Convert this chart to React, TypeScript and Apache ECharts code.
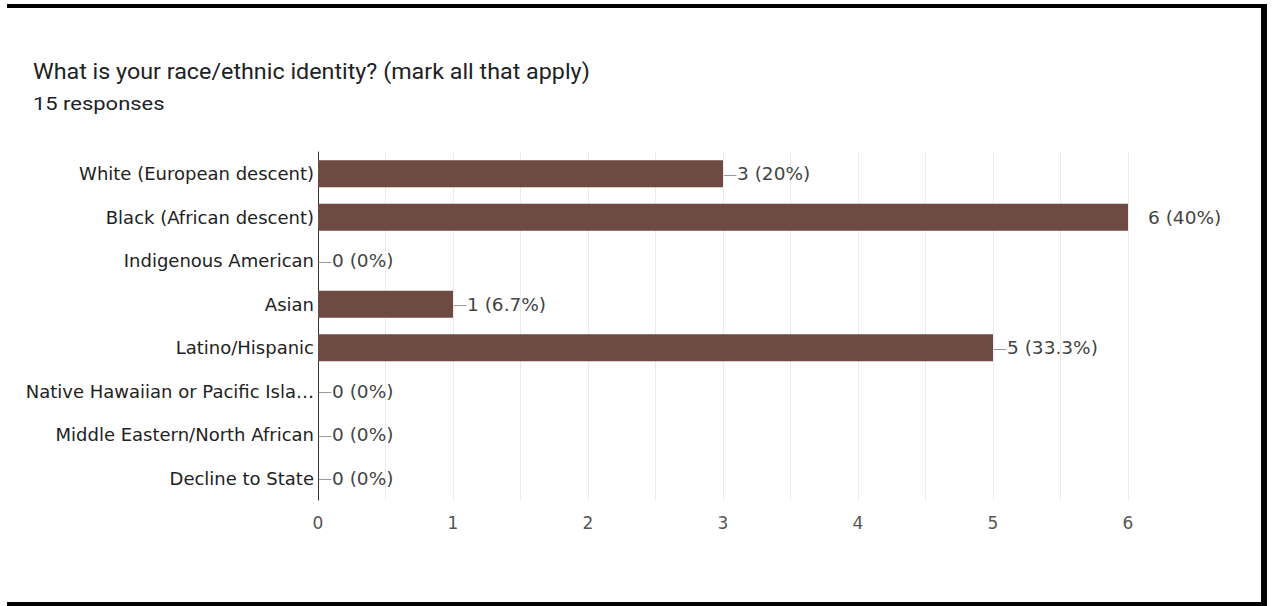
import React, { useEffect, useRef } from "react";
import * as echarts from "echarts";

const titleText = "What is your race/ethnic identity? (mark all that apply)";
const subtitleText = "15 responses";
const totalResponses = 15;
const categories = [
  "White (European descent)",
  "Black (African descent)",
  "Indigenous American",
  "Asian",
  "Latino/Hispanic",
  "Native Hawaiian or Pacific Isla…",
  "Middle Eastern/North African",
  "Decline to State",
];
const counts = [3, 6, 0, 1, 5, 0, 0, 0];
const xTicks = [0, 1, 2, 3, 4, 5, 6];

function pct(v: number): string {
  const p = Math.round((v / totalResponses) * 1000) / 10;
  return `${p}%`;
}

export default function App() {
  const ref = useRef<HTMLDivElement>(null);
  useEffect(() => {
    if (!ref.current) return;
    const chart = echarts.init(ref.current, undefined, { renderer: "svg" });
    const maxV = Math.max(...counts);
    const labelFont = "'DejaVu Sans', sans-serif";
    chart.setOption({
      animation: false,
      backgroundColor: "#ffffff",
      grid: { left: 318, right: 145, top: 152, bottom: 106, containLabel: false },
      xAxis: {
        type: "value",
        min: xTicks[0],
        max: xTicks[xTicks.length - 1],
        interval: 0.5,
        axisLine: { show: false },
        axisTick: { show: false },
        splitLine: { show: true, lineStyle: { color: "#ebebeb", width: 1 } },
        axisLabel: {
          margin: 14,
          fontFamily: labelFont,
          fontSize: 17,
          color: "#555555",
          formatter: (v: number) => (xTicks.includes(v) ? String(v) : ""),
        },
      },
      yAxis: {
        type: "category",
        inverse: true,
        data: categories,
        axisLine: { show: true, lineStyle: { color: "#333333", width: 1 } },
        axisTick: { show: false },
        splitLine: { show: false },
        axisLabel: {
          margin: 4,
          fontFamily: labelFont,
          fontSize: 18,
          color: "#222222",
        },
      },
      series: [
        {
          type: "bar",
          barWidth: 27,
          itemStyle: { color: "#6d4a42" },
          data: counts.map((v) => ({
            value: v,
            label:
              v === maxV
                ? { distance: 20, formatter: `${v} (${pct(v)})` }
                : { distance: 0, formatter: `{d|—}${v} (${pct(v)})` },
          })),
          label: {
            show: true,
            position: "right",
            fontFamily: labelFont,
            fontSize: 18.5,
            color: "#444444",
            rich: {
              d: { color: "#9a9a9a", fontFamily: labelFont, fontSize: 14 },
            },
          },
        },
      ],
      graphic: [
        {
          type: "text",
          x: 33,
          y: 72,
          scaleX: 1.06,
          style: {
            text: titleText,
            font: "22px Roboto, sans-serif",
            fill: "#202124",
            textVerticalAlign: "middle",
          },
        },
        {
          type: "text",
          x: 33,
          y: 104,
          scaleX: 1.22,
          style: {
            text: subtitleText,
            font: "18px Roboto, sans-serif",
            fill: "#202124",
            textVerticalAlign: "middle",
          },
        },
        { type: "rect", shape: { x: 7, y: 4, width: 1260, height: 4 }, style: { fill: "#000000" } },
        { type: "rect", shape: { x: 1261, y: 4, width: 6, height: 602 }, style: { fill: "#000000" } },
        { type: "rect", shape: { x: 7, y: 602, width: 1260, height: 4 }, style: { fill: "#000000" } },
      ],
    });
    return () => chart.dispose();
  }, []);
  return (
    <div
      ref={ref}
      style={{ position: "fixed", left: 0, top: 0, width: 1273, height: 606 }}
    />
  );
}
